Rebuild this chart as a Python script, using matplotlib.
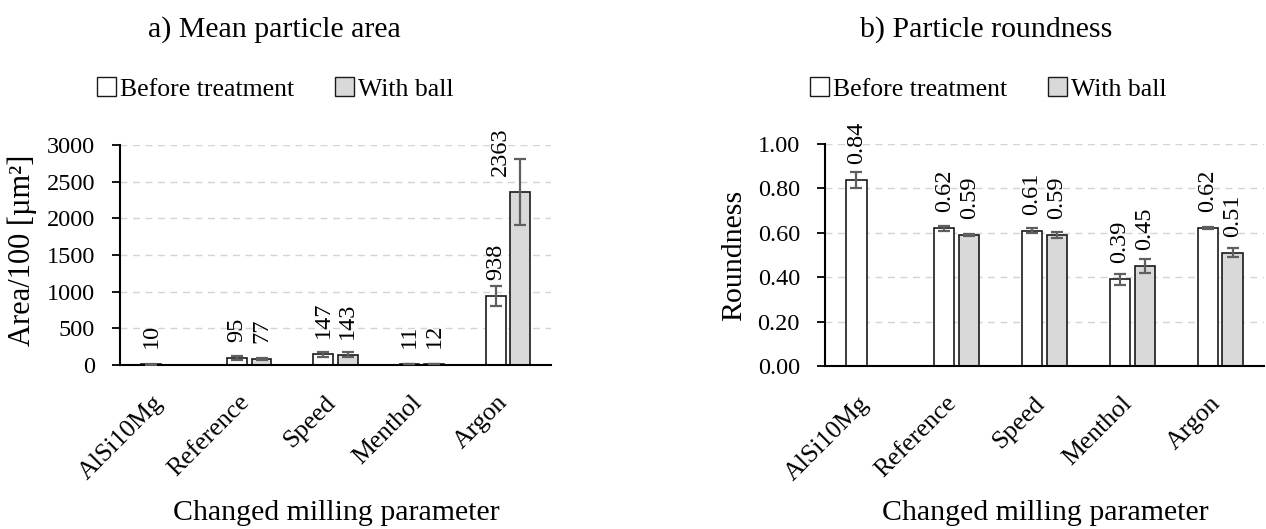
import numpy as np
import matplotlib
matplotlib.use("Agg")
import matplotlib.pyplot as plt
from matplotlib.patches import Patch
from matplotlib.transforms import ScaledTranslation

# ---- data ----
categories = ["AlSi10Mg", "Reference", "Speed", "Menthol", "Argon"]
series_names = ["Before treatment", "With ball"]

area_before = [10, 95, 147, 11, 938]
area_before_err = [5, 30, 37, 4, 140]
area_ball = [np.nan, 77, 143, 12, 2363]
area_ball_err = [np.nan, 14, 37, 4, 450]

round_before = [0.84, 0.62, 0.61, 0.39, 0.62]
round_before_err = [0.036, 0.01, 0.01, 0.025, 0.005]
round_ball = [np.nan, 0.59, 0.59, 0.45, 0.51]
round_ball_err = [np.nan, 0.005, 0.012, 0.033, 0.02]

area_ticks = [0, 500, 1000, 1500, 2000, 2500, 3000]
round_ticks = [0.0, 0.2, 0.4, 0.6, 0.8, 1.0]

plt.rcParams['font.family'] = ['Liberation Serif', 'DejaVu Serif']

W, H = 1266, 529
fig = plt.figure(figsize=(W / 100, H / 100), dpi=100)

ax1 = fig.add_axes([120 / W, (H - 365) / H, 431 / W, 220 / H])
ax2 = fig.add_axes([825 / W, (H - 366) / H, 439 / W, 222 / H])

colors = ['white', '#d9d9d9']
edge = '#1a1a1a'
ecol = '#5f5f5f'
bw = 0.23
off = 0.142
TICK_FS = 17.5
XTICK_FS = 18.5
LAB_FS = 17.5


def draw(ax, before, berr, ball, lerr, ticks, fmt, label_fmt, special=None):
    x = np.arange(len(categories))
    for vals, errs, c, sgn in [(before, berr, colors[0], -1), (ball, lerr, colors[1], 1)]:
        xs = x + sgn * off
        v = np.array(vals, dtype=float)
        e = np.array(errs, dtype=float)
        ax.bar(xs, v, width=bw, color=c, edgecolor=edge, linewidth=1.2, zorder=2)
        ax.errorbar(xs, v, yerr=e, fmt='none', ecolor=ecol, elinewidth=1.6,
                    capsize=4.5, capthick=1.6, zorder=3)
        for xi, vi in zip(xs, v):
            if np.isnan(vi):
                continue
            dx = 0
            if special is not None and vi in special:
                dx = special[vi]
            ax.annotate(label_fmt(vi), (xi, vi), xytext=(dx, 11.5),
                        textcoords='offset points', rotation=90,
                        ha='center', va='bottom', fontsize=LAB_FS, zorder=4)
    ax.set_xlim(-0.5, len(categories) - 0.5)
    ax.set_ylim(ticks[0], ticks[-1])
    ax.set_yticks(ticks)
    ax.set_yticklabels([fmt(t) for t in ticks], fontsize=TICK_FS)
    ax.set_xticks(x)
    ax.set_xticklabels([])
    ax.tick_params(axis='x', length=0)
    # category labels, rotated 45 degrees, anchored at their upper-right end
    tr = ax.get_xaxis_transform() + ScaledTranslation(-0.11, -19 / 72, fig.dpi_scale_trans)
    for xi, name in zip(x, categories):
        ax.text(xi, 0, name, transform=tr, rotation=45, rotation_mode='anchor',
                ha='right', va='top', fontsize=XTICK_FS, clip_on=False)
    ax.tick_params(axis='y', length=6, width=1.3, pad=12, color='black')
    ax.yaxis.grid(True, linestyle=(0, (5, 4)), color='#d4d4d4', linewidth=1.0)
    ax.set_axisbelow(True)
    for s in ['top', 'right']:
        ax.spines[s].set_visible(False)
    for s in ['left', 'bottom']:
        ax.spines[s].set_linewidth(1.5)
        ax.spines[s].set_color('black')


draw(ax1, area_before, area_before_err, area_ball, area_ball_err, area_ticks,
     lambda t: f"{t:d}", lambda v: f"{v:.0f}", special={2363.0: -14.5})
draw(ax2, round_before, round_before_err, round_ball, round_ball_err, round_ticks,
     lambda t: f"{t:.2f}", lambda v: f"{v:.2f}")

TITLE_FS = 21.5
fig.text(274 / W, 1 - 30 / H, "a) Mean particle area", ha='center', va='center', fontsize=TITLE_FS)
fig.text(986 / W, 1 - 30 / H, "b) Particle roundness", ha='center', va='center', fontsize=TITLE_FS)

fig.text(336 / W, 1 - 513 / H, "Changed milling parameter", ha='center', va='center', fontsize=TITLE_FS)
fig.text(1045 / W, 1 - 513 / H, "Changed milling parameter", ha='center', va='center', fontsize=TITLE_FS)

fig.text(22 / W, 1 - 250 / H, "Area/100 [µm²]", ha='center', va='center', rotation=90, fontsize=22)
fig.text(734 / W, 1 - 255 / H, "Roundness", ha='center', va='center', rotation=90, fontsize=TITLE_FS)

handles = [Patch(facecolor=colors[0], edgecolor=edge, linewidth=1.0),
           Patch(facecolor=colors[1], edgecolor=edge, linewidth=1.0)]
for cx in [275, 988]:
    fig.legend(handles, series_names, loc='center', bbox_to_anchor=(cx / W, 1 - 89 / H),
               ncol=2, frameon=False, fontsize=18.5, handlelength=0.75, handleheight=0.75,
               handletextpad=0.15, columnspacing=1.6, borderpad=0)

fig.savefig("out.png", dpi=100)
